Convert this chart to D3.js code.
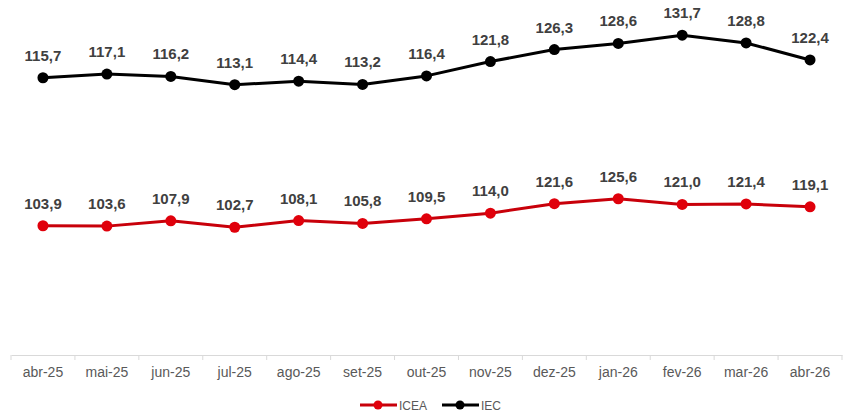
<!DOCTYPE html>
<html>
<head>
<meta charset="utf-8">
<script src="https://cdn.jsdelivr.net/npm/d3@7"></script>
<style>
  html, body { margin: 0; padding: 0; background: #fff; }
  svg { display: block; font-family: "Liberation Sans", Arial, sans-serif; }
</style>
</head>
<body>
<svg id="chart" width="852" height="411"></svg>
<script>
// Monthly index values
const months = ["abr-25", "mai-25", "jun-25", "jul-25", "ago-25", "set-25", "out-25",
                "nov-25", "dez-25", "jan-26", "fev-26", "mar-26", "abr-26"];
const icea = [103.9, 103.6, 107.9, 102.7, 108.1, 105.8, 109.5, 114.0, 121.6, 125.6, 121.0, 121.4, 119.1];
const iec  = [115.7, 117.1, 116.2, 113.1, 114.4, 113.2, 116.4, 121.8, 126.3, 128.6, 131.7, 128.8, 122.4];

const W = 852, H = 411;
const left = 11, right = 842, baseY = 355;

const svg = d3.select("#chart");
const fmt = v => d3.format(".1f")(v).replace(".", ",");

const x = d3.scaleBand().domain(months).range([left, right]).padding(0);
const cx = m => x(m) + x.bandwidth() / 2;

// Each series sits on its own vertical scale
const yIcea = d3.scaleLinear().domain([0, 140]).range([baseY, baseY - 140 * 1.244]);
const yIec = d3.scaleLinear().domain([100, 135]).range([119.5, 26.45]);

// Category axis
const xAxis = d3.axisBottom(x).tickSize(0).tickPadding(12);
const gx = svg.append("g").attr("transform", `translate(0,${baseY})`).call(xAxis);
gx.select(".domain").attr("stroke", "#d9d9d9").attr("stroke-width", 1);
gx.selectAll(".tick text")
  .attr("fill", "#595959")
  .style("font-size", "14px")
  .style("font-family", "'Liberation Sans', Arial, sans-serif");

// Small tick marks on category boundaries
svg.append("g").selectAll("line")
  .data(months.concat(["__end"]))
  .join("line")
  .attr("x1", (d, i) => i < months.length ? x(d) : right)
  .attr("x2", (d, i) => i < months.length ? x(d) : right)
  .attr("y1", baseY).attr("y2", baseY + 5)
  .attr("stroke", "#d9d9d9");

function series(values, y, lineColor, dotColor) {
  const pts = months.map((m, i) => ({ m, v: values[i] }));
  const line = d3.line().x(d => cx(d.m)).y(d => y(d.v));
  const g = svg.append("g");
  g.append("path").datum(pts)
    .attr("d", line)
    .attr("fill", "none")
    .attr("stroke", lineColor)
    .attr("stroke-width", 3)
    .attr("stroke-linejoin", "round");
  g.selectAll("circle").data(pts).join("circle")
    .attr("cx", d => cx(d.m)).attr("cy", d => y(d.v))
    .attr("r", 5.5).attr("fill", dotColor);
  g.selectAll("text").data(pts).join("text")
    .attr("x", d => cx(d.m)).attr("y", d => y(d.v) - 17)
    .attr("text-anchor", "middle")
    .attr("fill", "#404040")
    .style("font-size", "15px")
    .style("font-weight", "bold")
    .text(d => fmt(d.v));
}

series(icea, yIcea, "#c8000a", "#e0000b");
series(iec, yIec, "#000000", "#000000");

// Legend
const legend = svg.append("g").attr("transform", "translate(0,405)");
const items = [
  { name: "ICEA", color: "#c8000a", dot: "#e0000b", x: 360 },
  { name: "IEC", color: "#000000", dot: "#000000", x: 442 }
];
items.forEach(it => {
  legend.append("line")
    .attr("x1", it.x).attr("x2", it.x + 37)
    .attr("y1", 0).attr("y2", 0)
    .attr("stroke", it.color).attr("stroke-width", 3);
  legend.append("circle")
    .attr("cx", it.x + 18).attr("cy", 0).attr("r", 4.5).attr("fill", it.dot);
  legend.append("text")
    .attr("x", it.x + 39).attr("y", 4.5)
    .attr("fill", "#595959")
    .style("font-size", "12px")
    .text(it.name);
});
</script>
</body>
</html>
